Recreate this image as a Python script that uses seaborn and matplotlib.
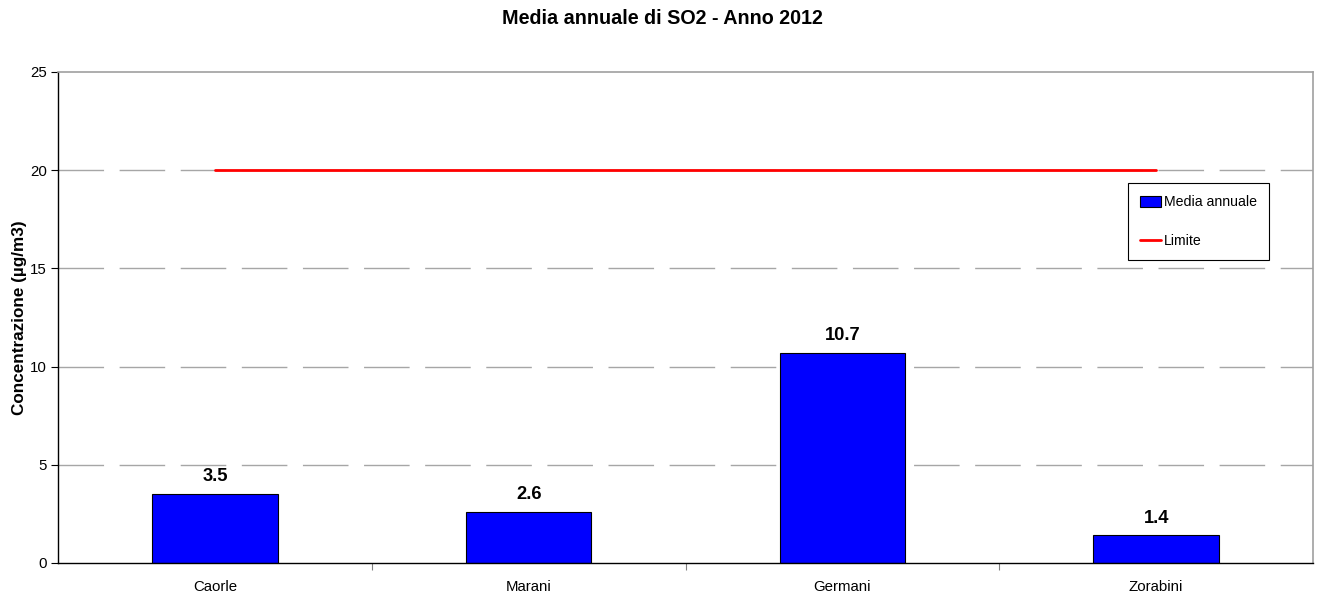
import matplotlib
matplotlib.use("Agg")
import matplotlib.pyplot as plt
import seaborn as sns
import pandas as pd
import numpy as np

stations = ["Caorle", "Marani", "Germani", "Zorabini"]
media_annuale = [3.5, 2.6, 10.7, 1.4]
limite = [20, 20, 20, 20]
y_ticks = [0, 5, 10, 15, 20, 25]

sns.set_theme(style="white")
plt.rcParams["font.family"] = ["Liberation Sans", "DejaVu Sans"]
plt.rcParams.update({
    "text.color": "black",
    "axes.labelcolor": "black",
    "xtick.color": "black",
    "ytick.color": "black",
    "lines.scale_dashes": False,
})

df = pd.DataFrame({"Stazione": stations, "Media annuale": media_annuale, "Limite": limite})

fig = plt.figure(figsize=(13.19, 5.95), dpi=100)
ax = fig.add_axes([0.044, 0.0538, 0.9515, 0.8252])

sns.barplot(data=df, x="Stazione", y="Media annuale", color="#0000ff", width=0.4,
            edgecolor="black", linewidth=0.8, saturation=1, ax=ax, label="Media annuale")
sns.lineplot(data=df, x="Stazione", y="Limite", color="#ff0000", linewidth=2,
             ax=ax, label="Limite", sort=False)

for i, v in enumerate(media_annuale):
    ax.text(i, v + 0.45, f"{v:.1f}", ha="center", va="bottom", fontsize=13.2, fontweight="bold")

ax.set_xlim(-0.5, len(stations) - 0.5)
ax.set_ylim(0, 25)
ax.set_yticks(y_ticks)
ax.set_yticklabels([str(t) for t in y_ticks], fontsize=10.8)
ax.set_xticks(range(len(stations)))
ax.set_xticklabels(stations, fontsize=10.8)
ax.tick_params(axis="x", which="major", length=0, pad=12)
ax.set_xticks(np.arange(0.5, len(stations) - 0.5, 1), minor=True)
ax.tick_params(axis="x", which="minor", length=5, color="#808080", width=0.8, direction="out", bottom=True)
ax.tick_params(axis="y", length=5, width=0.8, color="black", left=True, pad=3)

for t in y_ticks[1:-1]:
    ax.axhline(t, color="#a6a6a6", linewidth=1.0, dashes=(32.8, 11.2), zorder=0)

ax.set_xlabel("")
ax.set_ylabel("Concentrazione (µg/m3)", fontsize=12.3, fontweight="bold", labelpad=2)
fig.text(0.502, 1 - 19 / 595, "Media annuale di SO2 - Anno 2012", ha="center", va="center",
         fontsize=14.2, fontweight="bold")

for side in ["top", "right"]:
    ax.spines[side].set_color("#a0a0a0")
    ax.spines[side].set_linewidth(1.2)
for side in ["left", "bottom"]:
    ax.spines[side].set_color("black")
    ax.spines[side].set_linewidth(1)

handles, labels = ax.get_legend_handles_labels()
order = [labels.index("Media annuale"), labels.index("Limite")]
leg = ax.legend([handles[i] for i in order], [labels[i] for i in order],
                loc="upper left", bbox_to_anchor=(0.8526, 0.7736), fontsize=10.2,
                frameon=True, fancybox=False, edgecolor="black", framealpha=1,
                borderpad=0.85, labelspacing=1.75, handlelength=1.5, handletextpad=0.2,
                handleheight=0.8, borderaxespad=0)
leg.get_frame().set_linewidth(0.8)

fig.savefig("out.png", dpi=100)
